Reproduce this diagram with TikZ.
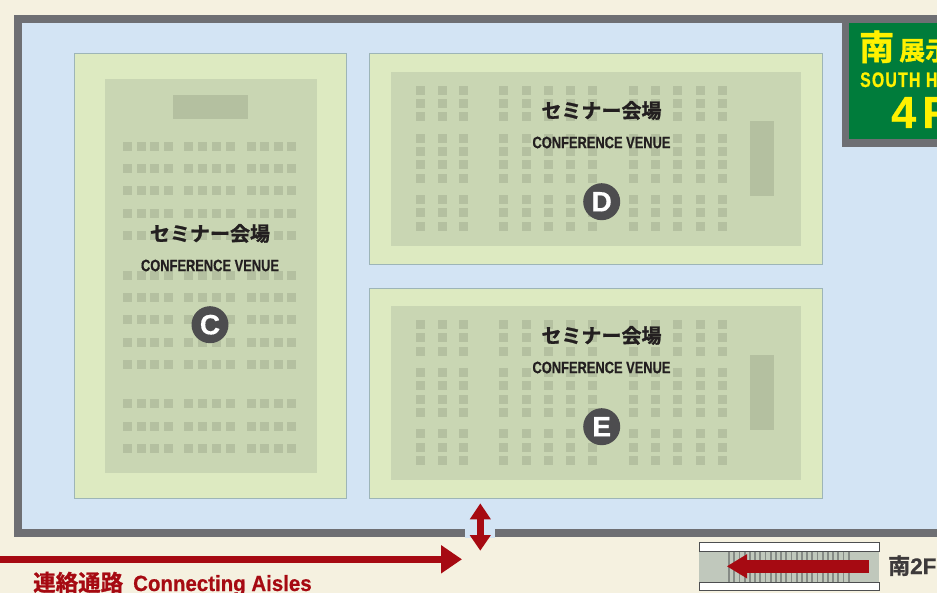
\documentclass[tikz,border=0pt]{standalone}
\usepackage{fontspec}
\setmainfont{Liberation Sans}
\newfontfamily\cjk[BoldFont={Noto Sans CJK JP Bold},BoldFeatures={FakeBold=1.2}]{Noto Sans CJK JP}
\newfontfamily\cnfont[FakeStretch=0.78,FakeBold=0.6]{Liberation Sans Bold}
\newfontfamily\cnfontb[FakeStretch=0.93,FakeBold=0.6]{Liberation Sans Bold}
\newfontfamily\cnfontc[FakeStretch=0.75,FakeBold=0.8,LetterSpace=6]{Liberation Sans Bold}
\newfontfamily\boldface[FakeBold=0.5]{Liberation Sans Bold}
\usetikzlibrary{arrows.meta}
\definecolor{bgc}{HTML}{F5F1E0}
\definecolor{hallc}{HTML}{D3E4F4}
\definecolor{wallc}{HTML}{6E6F73}
\definecolor{roomc}{HTML}{DDEAC1}
\definecolor{roomb}{HTML}{9DB5B7}
\definecolor{innerc}{HTML}{C9D6B3}
\definecolor{seatc}{HTML}{B4C0A0}
\definecolor{greenc}{HTML}{007C3B}
\definecolor{yelc}{HTML}{FFF100}
\definecolor{redc}{HTML}{A60A12}
\definecolor{circc}{HTML}{4D4D4F}
\definecolor{inkc}{HTML}{231F20}
\definecolor{escc}{HTML}{C0C8BC}
\definecolor{stripec}{HTML}{858A85}
\tikzset{
  room/.style={fill=roomc,draw=roomb,line width=0.8pt},
  inner/.style={fill=innerc},
  seat/.style={fill=seatc},
  jatitle/.style={font=\cjk\bfseries\fontsize{20}{20}\selectfont,text=inkc,inner sep=0pt,anchor=center},
  entitle/.style={font=\cnfont\fontsize{16.5}{16.5}\selectfont,text=inkc,inner sep=0pt,anchor=center},
  badge/.style={circle,fill=circc,minimum size=37pt,inner sep=0pt,text=white,font=\boldface\fontsize{28}{28}\selectfont},
  yel/.style={text=yelc,inner sep=0pt,anchor=base west},
  redarrow/.style={draw=redc,line width=7pt,-{Triangle[length=21pt,width=27pt,fill=redc]}}
}
\begin{document}
\begin{tikzpicture}[x=1pt,y=-1pt]
\useasboundingbox (0,0) rectangle (937,593);
\clip (0,0) rectangle (937,593);
\fill[bgc] (0,0) rectangle (937,593);
% hall and walls
\fill[wallc] (13.5,15) rectangle (937,536.7);
\fill[hallc] (21.7,22.7) rectangle (937,529);
\fill[hallc] (465,528) rectangle (495,537.7);
% room C
\draw[room] (74,53.4) rectangle (346.2,498.8);
\fill[inner] (104.7,79) rectangle (316.7,472.7);
\fill[seat] (172.7,95) rectangle (247.7,119);
\foreach \y in {142,164,186,209,231,271,293,315,338,360,399,422,444}
  \foreach \x in {123.3,136.7,150.3,163.7,184.3,198.3,211.7,225.7,246.7,260,273.7,287}
    \fill[seat] (\x,\y) rectangle ++(9,9);
% room D
\draw[room] (369,53.6) rectangle (822.6,264.6);
\fill[inner] (391.3,72) rectangle (800.7,245.7);
\fill[seat] (749.7,121) rectangle (773.7,195.7);
\foreach \y in {86,99,112,134,147,160,174,195,208,222}
  \foreach \x in {415.5,437.7,459.3,499.3,521.7,543.7,566.3,588.3,628.7,650.7,672.7,695.7,717.7}
    \fill[seat] (\x,\y) rectangle ++(9,9);
% room E
\draw[room] (369,288) rectangle (822.6,498.8);
\fill[inner] (391.3,306) rectangle (800.7,480);
\fill[seat] (749.7,355) rectangle (773.7,430);
\foreach \y in {320,333,347,368,381,395,408,429,443,456}
  \foreach \x in {415.5,437.7,459.3,499.3,521.7,543.7,566.3,588.3,628.7,650.7,672.7,695.7,717.7}
    \fill[seat] (\x,\y) rectangle ++(9,9);
% labels
\node[jatitle] (cja) at (210,233.5) {セミナー会場};
\node[entitle] (cen) at (210,265.5) {CONFERENCE VENUE};
\node[badge] (cb) at (210,324.7) {C};
\node[jatitle] (dja) at (601.5,110.5) {セミナー会場};
\node[entitle] (den) at (601.5,142.5) {CONFERENCE VENUE};
\node[badge] (db) at (601.7,201.7) {D};
\node[jatitle] (eja) at (601.5,335.5) {セミナー会場};
\node[entitle] (een) at (601.5,367.5) {CONFERENCE VENUE};
\node[badge] (eb) at (601.7,426.7) {E};
% sign
\fill[wallc] (842.3,15) rectangle (937,146.7);
\fill[greenc] (849.3,22.7) rectangle (937,139);
\node[yel,font=\cjk\bfseries\fontsize{35}{35}\selectfont] (s1) at (859,60) {南};
\node[yel,font=\cjk\bfseries\fontsize{26}{26}\selectfont] (s2) at (899,60) {展示};
\node[yel,font=\cnfontc\fontsize{21}{21}\selectfont] (s3) at (860,87) {SOUTH H};
\node[yel,font=\boldface\fontsize{45}{45}\selectfont] (s4) at (891,128) {4\hspace{6pt}F};
% connecting aisle
\coordinate (a1) at (0,559.3);
\coordinate (a2) at (462,559.3);
\draw[redarrow] (a1) -- (a2);
\coordinate (d1) at (480.3,503.3);
\coordinate (d2) at (480.3,550.7);
\draw[draw=redc,line width=6.5pt,{Triangle[length=16pt,width=20pt,fill=redc]}-{Triangle[length=15.5pt,width=20pt,fill=redc]}] (d1) -- (d2);
\node[text=redc,inner sep=0pt,anchor=base west] (lab) at (33,591) {{\cjk\bfseries\fontsize{22.5}{22.5}\selectfont 連絡通路}\hspace{10pt}{\cnfontb\fontsize{22}{22}\selectfont Connecting Aisles}};
% escalator
\fill[escc] (699,551) rectangle (879,582.3);
\foreach \x in {729,734.2,...,853.5}
  \draw[stripec,line width=1.8pt] (\x,551) -- (\x,582.3);
\draw[fill=white,draw=wallc!70!black,line width=1pt] (699,542.8) rectangle (879,551);
\draw[fill=white,draw=wallc!70!black,line width=1pt] (699,582.5) rectangle (879,590.5);
\coordinate (e1) at (869,566.3);
\coordinate (e2) at (726.7,566.3);
\draw[draw=redc,line width=12.5pt,-{Triangle[length=20.5pt,width=23pt,fill=redc]}] (e1) -- (e2);
\node[text=inkc!88!white,inner sep=0pt,anchor=base west] (l2f) at (888,574) {{\cjk\bfseries\fontsize{22}{22}\selectfont 南}{\boldface\fontsize{22.5}{22.5}\selectfont 2F}};
\end{tikzpicture}
\end{document}
